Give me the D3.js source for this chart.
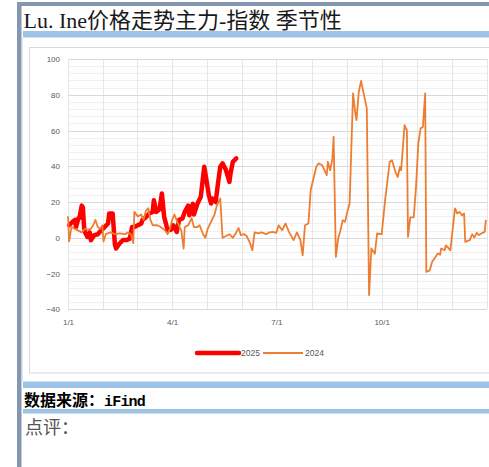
<!DOCTYPE html>
<html>
<head>
<meta charset="utf-8">
<script src="https://cdn.jsdelivr.net/npm/d3@7"></script>
<style>
  html, body { margin: 0; padding: 0; background: #fff; overflow: hidden; }
  svg { display: block; }
</style>
</head>
<body>
<svg id="svg" width="489" height="467"></svg>
<script>
// 季节性数据: 月-日 + 数值
var dates2024 = ['01-01','01-02','01-04','01-07','01-10','01-13','01-16','01-18','01-21','01-23','01-25','01-27','01-29','01-31',
  '02-01','02-03','02-07','02-11','02-15','02-20','02-22','02-25','02-27','02-28',
  '03-02','03-05','03-07','03-09','03-11','03-13','03-15','03-19','03-22','03-26','03-28','03-30',
  '04-01','04-03','04-06','04-09','04-11','04-12','04-15','04-18','04-20','04-23','04-25','04-28','04-30',
  '05-02','05-05','05-08','05-10','05-13','05-15','05-18','05-21','05-24','05-27','05-29','05-31',
  '06-03','06-05','06-08','06-10','06-12','06-15','06-18','06-22','06-25','06-28',
  '07-01','07-03','07-06','07-09','07-12','07-16','07-19','07-22','07-24','07-26','07-29','07-31',
  '08-02','08-05','08-07','08-10','08-12','08-14','08-15','08-17','08-19','08-20','08-22','08-24','08-26','08-28','08-30',
  '09-01','09-03','09-06','09-08','09-09','09-11','09-13','09-18','09-20','09-22','09-25','09-27',
  '10-01','10-04','10-08','10-10','10-13','10-15','10-17','10-18','10-21','10-23','10-24','10-26','10-29','10-31',
  '11-02','11-04','11-06','11-08','11-09','11-12','11-14','11-17','11-19','11-21','11-22','11-25','11-26','11-28','11-30',
  '12-04','12-06','12-08','12-10','12-12','12-13','12-17','12-19','12-21','12-23','12-25','12-27','12-30','12-31'];
var values2024 = [12,-2,6,5,4,3,5,4.5,5,7,10,6,5,7,
  -2,2,3,2,2.5,2,3,2,-3,14.5,
  12,13,10,15,16.5,10,7,7,6,4,2,5,
  10,13,8,4,-6,6,7,11,6,6,7,2,0,
  5,9,13,18,22,0,1,2,0,3,5.5,1.5,
  2,1,-3,-7,3,2.5,3,2,3,3.3,
  2.8,7,4.2,8,3.3,-1.3,3,-1.3,-9.8,7,8,26.6,
  32,40,41.6,40.6,37.8,35,42.5,37.8,44.4,56.5,-10.7,-0.4,4.2,9.9,8.9,
  14.5,19.2,80.8,69.6,65.8,81.7,87.8,72.4,-32,-6,-9,2.4,
  2,21,42.5,43.4,36.9,34,39.7,37.8,63,60.2,0.5,11.4,11.4,28.5,
  52.8,61.2,62,80.8,-19.1,-18.2,-13.5,-10.7,-8.8,-9.5,-6,-7,-4.2,-5.5,-7,
  16.4,13.6,14.5,12.6,13.6,-2.3,-1.3,2,0.2,2.8,1.5,2.4,3.3,10];

var dates2025 = ['01-02','01-05','01-07','01-08','01-10','01-11','01-13','01-14','01-15','01-16','01-18','01-20','01-21','01-24','01-27','01-30',
  '02-02','02-05','02-06','02-09','02-11','02-12','02-15','02-18','02-21','02-24','02-26','02-28',
  '03-02','03-05','03-06','03-09','03-12','03-15','03-16','03-18','03-21','03-23','03-25','03-28','03-31',
  '04-02','04-05','04-07','04-10','04-12','04-15','04-16','04-19','04-20','04-23','04-26','04-29','04-30',
  '05-02','05-03','05-05','05-06','05-09','05-11','05-13','05-15','05-18','05-21','05-22','05-24','05-27'];
var values2025 = [7,9,10,6,10.8,11,18,17,6,3,0.5,3,-1.3,1.5,2,4.2,
  6,8,13.6,13.6,-4,-6,-3.2,-1.3,-1.3,-0.5,6,6,
  7,8,9.9,11.5,13.6,14.5,21,14.5,16,24.8,11.7,4.2,4.5,
  7,3.3,10,10.8,14.5,18,12.6,19,13,19,23,39.7,36,
  28,23.9,19.2,22,20,30.4,39.7,41.6,37.9,31.3,36,42.5,44.4];

var seriesNames = ['2025', '2024'];
var seriesColors = ['#ff0000', '#ed7d31'];
var xTickLabels = ['1/1', '4/1', '7/1', '10/1'];
var yTickValues = [100, 80, 60, 40, 20, 0, -20, -40];

var svg = d3.select('#svg');
var parse = d3.timeParse('%Y-%m-%d');

function toPoints(dates, values) {
    // 所有年份都放到同一个年度坐标上
    return dates.map(function (d, i) {
        return { date: parse('2024-' + d), value: values[i] };
    });
}
var data2024 = toPoints(dates2024, values2024);
var data2025 = toPoints(dates2025, values2025);

// ---- 页面框架 ----
svg.append('rect').attr('x', 17).attr('y', 2).attr('width', 472).attr('height', 4).attr('fill', '#8497b0');
svg.append('rect').attr('x', 17).attr('y', 2).attr('width', 4.5).attr('height', 465).attr('fill', '#8497b0');
svg.append('line').attr('x1', 22).attr('x2', 22).attr('y1', 38).attr('y2', 381)
    .attr('stroke', '#c8d0dc').attr('stroke-width', 1);

var bars = [[31, 6.5], [381.5, 6.5], [409, 4.5]];
svg.selectAll('rect.band').data(bars).enter().append('rect')
    .attr('class', 'band')
    .attr('x', 23).attr('y', function (d) { return d[0]; })
    .attr('width', 466).attr('height', function (d) { return d[1]; })
    .attr('fill', '#9dc3e6');

svg.append('text').attr('x', 23.5).attr('y', 28)
    .attr('font-family', '"Liberation Serif", "Noto Sans CJK SC", serif')
    .attr('font-size', 22).attr('fill', '#1a1a1a')
    .text('Lu. Ine价格走势主力-指数 季节性');

var src = svg.append('text').attr('x', 24).attr('y', 406)
    .attr('font-family', '"Noto Sans CJK SC", sans-serif')
    .attr('font-size', 16).attr('font-weight', 'bold').attr('fill', '#000');
src.append('tspan').text('数据来源：');
src.append('tspan').attr('font-family', '"Liberation Mono", monospace')
    .attr('font-size', 15).attr('letter-spacing', -0.8).text('iFind');

svg.append('text').attr('x', 25).attr('y', 434)
    .attr('font-family', '"Noto Sans CJK SC", sans-serif')
    .attr('font-size', 18).attr('fill', '#555')
    .text('点评：');

// ---- 图表框 ----
svg.append('rect').attr('x', 29.5).attr('y', 47.5).attr('width', 470).attr('height', 325.5)
    .attr('fill', '#fff').attr('stroke', '#d9d9d9').attr('stroke-width', 1);

var x = d3.scaleTime()
    .domain([new Date(2024, 0, 1), new Date(2025, 0, 1)])
    .range([68, 487]);
var y = d3.scaleLinear().domain([-40, 100]).range([309.3, 59]);

// 次网格 (每 4)
var minor = d3.range(-40, 101, 4).filter(function (v) { return v % 20 !== 0; });
svg.append('g').selectAll('line').data(minor).enter().append('line')
    .attr('x1', 68).attr('x2', 487)
    .attr('y1', function (d) { return Math.round(y(d)) + 0.5; })
    .attr('y2', function (d) { return Math.round(y(d)) + 0.5; })
    .attr('stroke', '#f0f0f0').attr('stroke-width', 1);

// 月份竖线
var months = d3.timeMonth.range(new Date(2024, 0, 1), new Date(2025, 0, 2));
svg.append('g').selectAll('line').data(months).enter().append('line')
    .attr('x1', function (d) { return Math.round(x(d)) + 0.5; })
    .attr('x2', function (d) { return Math.round(x(d)) + 0.5; })
    .attr('y1', 59).attr('y2', 309.3)
    .attr('stroke', '#e6e6e6').attr('stroke-width', 1);

// 主网格 (每 20)
svg.append('g').selectAll('line').data(yTickValues).enter().append('line')
    .attr('x1', 68).attr('x2', 487)
    .attr('y1', function (d) { return Math.round(y(d)) + 0.5; })
    .attr('y2', function (d) { return Math.round(y(d)) + 0.5; })
    .attr('stroke', '#d9d9d9').attr('stroke-width', 1);

// 坐标轴文字
var yAxis = svg.append('g').attr('transform', 'translate(68,0)')
    .call(d3.axisLeft(y).tickValues(yTickValues).tickSize(0).tickPadding(8));
var quarters = d3.timeMonth.every(3).range(new Date(2024, 0, 1), new Date(2024, 11, 31));
var xAxis = svg.append('g').attr('transform', 'translate(0,309.3)')
    .call(d3.axisBottom(x).tickValues(quarters).tickSize(0).tickPadding(10)
        .tickFormat(function (d, i) { return xTickLabels[i]; }));
[xAxis, yAxis].forEach(function (g) {
    g.select('.domain').remove();
    g.selectAll('text').attr('fill', '#595959').attr('font-size', 8)
        .attr('font-family', '"Liberation Sans", Arial, sans-serif');
});

// 0 轴上的小刻度
svg.append('g').selectAll('line').data(quarters).enter().append('line')
    .attr('x1', function (d) { return Math.round(x(d)) + 0.5; })
    .attr('x2', function (d) { return Math.round(x(d)) + 0.5; })
    .attr('y1', y(0)).attr('y2', y(0) + 3)
    .attr('stroke', '#d0d0d0');

// ---- 折线 ----
var line = d3.line()
    .x(function (d) { return x(d.date); })
    .y(function (d) { return y(d.value); });

svg.append('path').datum(data2025).attr('d', line)
    .attr('fill', 'none').attr('stroke', seriesColors[0]).attr('stroke-width', 4.5)
    .attr('stroke-linejoin', 'round').attr('stroke-linecap', 'round');
svg.append('path').datum(data2024).attr('d', line)
    .attr('fill', 'none').attr('stroke', seriesColors[1]).attr('stroke-width', 1.8)
    .attr('stroke-linejoin', 'round');

// ---- 图例 ----
var legend = [
    { name: seriesNames[0], color: seriesColors[0], w: 4.5, x0: 197, x1: 239 },
    { name: seriesNames[1], color: seriesColors[1], w: 1.8, x0: 263, x1: 303 }
];
var lg = svg.append('g').selectAll('g').data(legend).enter().append('g');
lg.append('line')
    .attr('x1', function (d) { return d.x0; }).attr('x2', function (d) { return d.x1; })
    .attr('y1', 353).attr('y2', 353)
    .attr('stroke', function (d) { return d.color; })
    .attr('stroke-width', function (d) { return d.w; })
    .attr('stroke-linecap', function (d, i) { return i === 0 ? 'round' : 'butt'; });
lg.append('text')
    .attr('x', function (d) { return d.x1 + 2; }).attr('y', 356)
    .attr('font-family', '"Liberation Sans", Arial, sans-serif')
    .attr('font-size', 8.5).attr('fill', '#595959')
    .text(function (d) { return d.name; });
</script>
</body>
</html>
